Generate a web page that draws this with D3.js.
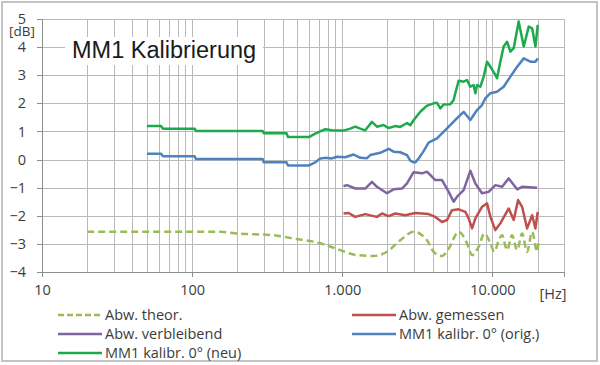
<!DOCTYPE html>
<html><head><meta charset="utf-8">
<script src="https://cdn.jsdelivr.net/npm/d3@7"></script>
<style>body{margin:0;background:#fff}svg{display:block}</style>
</head><body>
<script>
// ---- data (frequency [Hz], deviation [dB]) ----
const theorFreq = [20,154,199,348,473,713,970,1253,1618,1986,2436,2987,3670,4063,4621,5117,5960,6776,7326,8109,8845,9705,10310,11020,11610,12530,13520,14620,15780,17030,18400,19860,20260];
const theorVal  = [-2.57,-2.57,-2.63,-2.69,-2.81,-2.98,-3.22,-3.4,-3.43,-3.28,-2.87,-2.57,-2.87,-3.28,-3.43,-3.17,-2.57,-2.98,-3.4,-3.1,-2.63,-2.98,-3.28,-2.87,-2.69,-3.22,-2.69,-3.22,-2.63,-3.28,-2.57,-3.28,-2.93];

const gemFreq = [1020,1102,1221,1423,1703,1841,2036,2256,2630,3069,3758,4169,4621,4989,5383,5960,6607,6950,7326,7703,8531,9217,9705,10470,11300,12850,13870,14840,15780,17030,18400,19360,20050];
const gemVal  = [-1.92,-1.9,-2.04,-1.94,-2.04,-1.92,-2.01,-1.92,-1.98,-1.9,-1.94,-2.04,-2.22,-2.15,-1.8,-1.77,-1.86,-2.09,-2.45,-2.09,-1.68,-1.56,-2.04,-2.51,-2.27,-1.74,-2.15,-1.44,-1.68,-2.45,-1.98,-2.45,-1.86];

const verbFreq = [1020,1075,1221,1423,1577,1703,1986,2198,2500,2700,2987,3396,3670,4169,4621,5117,5521,5821,6436,7129,7703,8531,9441,10470,11610,12850,14620,15780,19860];
const verbVal  = [-0.95,-0.91,-1.03,-1.03,-0.79,-0.97,-1.2,-1.06,-1.03,-0.85,-0.45,-0.49,-0.43,-0.73,-0.73,-1.15,-1.5,-1.32,-1.09,-0.4,-0.85,-1.2,-1.15,-0.91,-0.97,-0.67,-1.06,-0.97,-1.0];

const origFreq = [50,62,64,104,106,295,300,425,435,600,661,713,771,853,922,1047,1189,1318,1462,1537,1793,2036,2198,2436,2700,2840,2987,3069,3227,3484,3758,4277,4989,5821,6436,7129,7907,8531,8974,9705,10740,11890,13180,14620,16180,17910,19360,20050];
const origVal  = [0.21,0.21,0.12,0.12,0.02,0.02,-0.1,-0.1,-0.21,-0.21,-0.1,0.04,0.06,0.04,0.1,0.08,0.18,0.06,0.05,0.16,0.24,0.38,0.28,0.26,0.16,-0.04,-0.1,-0.1,0.04,0.3,0.6,0.75,1.11,1.47,1.7,1.41,1.76,1.94,2.18,2.36,2.41,2.59,2.95,3.3,3.6,3.48,3.48,3.6];

const neuFreq = [50,62,64,104,106,295,300,425,435,600,661,771,853,1020,1130,1221,1318,1423,1577,1703,1884,2036,2256,2436,2700,2840,2987,3311,3670,4063,4277,4500,4732,5248,5521,5664,5960,6436,6776,7129,7499,7703,7907,8318,8750,9217,9705,10470,10740,11300,11890,12530,13180,13870,14970,16180,17460,18400,19360,20050];
const neuVal  = [1.19,1.19,1.1,1.1,1.02,1.02,0.94,0.94,0.8,0.8,0.92,1.08,1.04,1.03,1.1,1.17,1.1,1.04,1.34,1.17,1.23,1.12,1.19,1.16,1.3,1.22,1.4,1.7,1.92,2.0,2.02,1.82,1.96,1.97,2.12,2.36,2.8,2.77,2.83,2.59,2.65,2.36,2.65,2.59,2.95,3.48,3.3,3.01,2.89,3.48,4.02,4.19,3.84,3.96,4.91,4.02,4.73,4.67,4.02,4.79];

const xTickValues = [10,100,1000,10000];
const xTickLabels = ["10","100","1.000","10.000"];
const yTickValues = [-4,-3,-2,-1,0,1,2,3,4,5];

const seriesNames = ["Abw. theor.","Abw. gemessen","Abw. verbleibend","MM1 kalibr. 0° (orig.)","MM1 kalibr. 0° (neu)"];
const seriesColors = ["#9BBB59","#C0504D","#8064A2","#4F81BD","#1DAA4C"];

// ---- layout ----
const W = 600, H = 365;
const svg = d3.select("body").append("svg").attr("width", W).attr("height", H);
const x = d3.scaleLog().domain([10, 30000]).range([42, 564]);
const y = d3.scaleLinear().domain([-4, 5]).range([272, 19]);

svg.append("rect").attr("x",2).attr("y",2).attr("width",595).attr("height",359)
  .attr("fill","#fff").attr("stroke","#c4c4c4").attr("stroke-width",2);

// grid
const gridFreqs = [];
[10,100,1000,10000].forEach(d => { for (let k = 1; k <= 9; k++) { const f = d*k; if (f > 10 && f <= 30000) gridFreqs.push(f); } });
gridFreqs.push(20000, 30000);
const grid = svg.append("g").attr("stroke","#b9b9b9").attr("stroke-width",1).attr("shape-rendering","crispEdges");
grid.selectAll("line.v").data(gridFreqs).join("line")
  .attr("x1", d => Math.round(x(d))+0.5).attr("x2", d => Math.round(x(d))+0.5)
  .attr("y1", y(5)).attr("y2", y(-4));
grid.selectAll("line.h").data(yTickValues.filter(v => v > -4)).join("line")
  .attr("x1", x(10)).attr("x2", x(30000))
  .attr("y1", d => Math.round(y(d))+0.5).attr("y2", d => Math.round(y(d))+0.5);

// axes
const font = "'Open Sans', 'DejaVu Sans', sans-serif";
const yAxis = svg.append("g").attr("transform", `translate(${x(10)},0)`)
  .call(d3.axisLeft(y).tickValues(yTickValues).tickSize(5).tickPadding(11));
const xAxis = svg.append("g").attr("transform", `translate(0,${y(-4)})`)
  .call(d3.axisBottom(x).tickValues(xTickValues).tickFormat((d,i) => xTickLabels[i]).tickSize(5).tickPadding(8));
[xAxis, yAxis].forEach(a => {
  a.selectAll("path,line").attr("stroke","#8e8e8e").attr("shape-rendering","crispEdges");
  a.selectAll("text").attr("fill","#3c3c3c").style("font-family", font).style("font-size","14.5px");
});
yAxis.select(".domain").attr("d", `M-5,${y(-4)}H0V${y(5)}`);

svg.append("text").attr("x", 22).attr("y", 35.5).attr("text-anchor","middle")
  .attr("fill","#3c3c3c").style("font-family", font).style("font-size","13.5px").text("[dB]");
svg.append("text").attr("x", 553).attr("y", 299).attr("text-anchor","middle")
  .attr("fill","#3c3c3c").style("font-family", font).style("font-size","14.5px").text("[Hz]");

// title with white background
svg.append("rect").attr("x",65).attr("y",37).attr("width",198).attr("height",28).attr("fill","#fff");
svg.append("text").attr("x", 72).attr("y", 57.5)
  .attr("fill","#1a1a1a").style("font-family","'Liberation Sans', Arial, sans-serif").style("font-size","23.5px")
  .text("MM1 Kalibrierung");

// series
const series = [
  {f: theorFreq, v: theorVal, dash: "7,4", curve: d3.curveMonotoneX},
  {f: gemFreq, v: gemVal, dash: null, curve: d3.curveLinear},
  {f: verbFreq, v: verbVal, dash: null, curve: d3.curveLinear},
  {f: origFreq, v: origVal, dash: null, curve: d3.curveLinear},
  {f: neuFreq, v: neuVal, dash: null, curve: d3.curveLinear}
];
series.forEach((s, i) => {
  const pts = s.f.map((f, j) => [f, s.v[j]]);
  svg.append("path").datum(pts)
    .attr("d", d3.line().x(d => x(d[0])).y(d => y(d[1])).curve(s.curve))
    .attr("fill","none").attr("stroke", seriesColors[i]).attr("stroke-width", 2.5)
    .attr("stroke-linejoin","round").attr("stroke-dasharray", s.dash);
});

// legend
const legendPos = [[58,315],[352,315],[58,334],[352,334],[58,353]];
seriesNames.forEach((name, i) => {
  const [lx, ly] = legendPos[i];
  svg.append("line").attr("x1", lx).attr("x2", lx+44).attr("y1", ly).attr("y2", ly)
    .attr("stroke", seriesColors[i]).attr("stroke-width", 2.5)
    .attr("stroke-dasharray", i === 0 ? "6,3" : null);
  svg.append("text").attr("x", lx+47).attr("y", ly+5)
    .attr("fill","#3c3c3c").style("font-family", font).style("font-size","14.5px").text(name);
});
</script>
</body></html>
